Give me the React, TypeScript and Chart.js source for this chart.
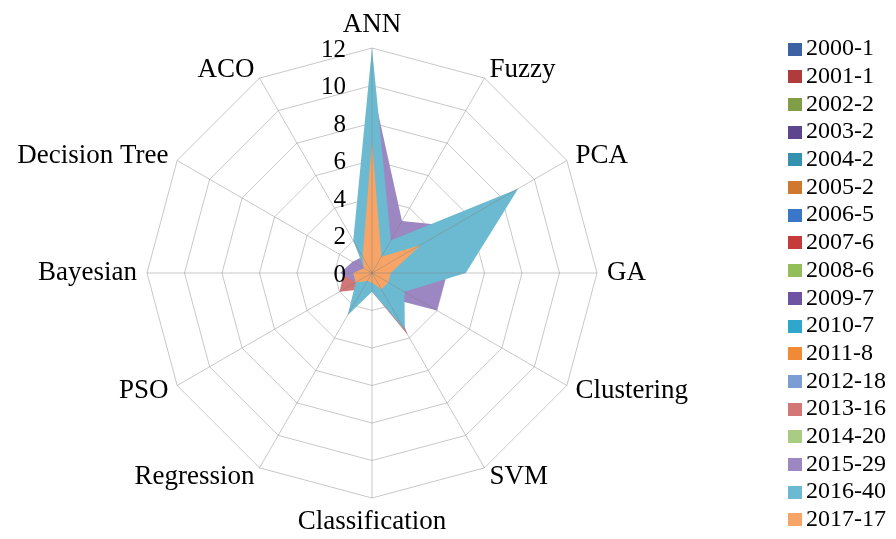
import React, { useEffect, useRef } from "react";
import { Chart, registerables } from "chart.js";

Chart.register(...registerables);

const categories = [
  "ANN", "Fuzzy", "PCA", "GA", "Clustering", "SVM",
  "Classification", "Regression", "PSO", "Bayesian", "Decision Tree", "ACO",
];

const tickValues = [0, 2, 4, 6, 8, 10, 12];

const seriesLabels = [
  "2000-1", "2001-1", "2002-2", "2003-2", "2004-2", "2005-2",
  "2006-5", "2007-6", "2008-6", "2009-7", "2010-7", "2011-8",
  "2012-18", "2013-16", "2014-20", "2015-29", "2016-40", "2017-17",
];

const seriesColors = [
  "#3D62A4", "#B03B3B", "#7F9E47", "#5E468E", "#3492AE", "#D0782F",
  "#3A77C8", "#C53A3A", "#93BE5A", "#6E52A3", "#2FA6CC", "#F08A37",
  "#7C9CD4", "#D27676", "#A9CB82", "#9C87C2", "#6CBAD1", "#F7A466",
];

// values per category: ANN, Fuzzy, PCA, GA, Clustering, SVM, Classification, Regression, PSO, Bayesian, Decision Tree, ACO
const s2000 = [1, 0, 0, 0, 0, 0, 0, 0, 0, 0, 0, 0];
const s2001 = [0, 0, 1, 0, 0, 0, 0, 0, 0, 0, 0, 0];
const s2002 = [1, 0, 0, 1, 0, 0, 0, 0, 0, 0, 0, 0];
const s2003 = [1, 1, 0, 0, 0, 0, 0, 0, 0, 0, 0, 0];
const s2004 = [1, 0, 1, 0, 0, 0, 0, 0, 0, 0, 0, 0];
const s2005 = [2, 0, 0, 0, 0, 0, 0, 0, 0, 0, 0, 0];
const s2006 = [3, 0, 1, 1, 0, 0, 0, 0, 0, 0, 0, 0];
const s2007 = [3, 1, 1, 0, 1, 0, 0, 0, 0, 0, 0, 0];
const s2008 = [2, 0, 2, 1, 0, 1, 0, 0, 0, 0, 0, 0];
const s2009 = [4, 1, 1, 1, 0, 0, 0, 0, 0, 0, 0, 0];
const s2010 = [3, 1, 2, 1, 0, 0, 0, 0, 0, 0, 0, 0];
const s2011 = [4, 1, 2, 1, 0, 0, 0, 0, 0, 0, 0, 0];
const s2012 = [6, 1, 3, 2, 1, 1, 0, 0, 1, 0, 0, 1];
const s2013 = [5, 1, 2, 2, 1, 3.8, 1, 1, 2, 1.5, 0, 0];
const s2014 = [6, 1, 3, 2, 1, 1, 0, 1, 0, 1, 0, 1];
const s2015 = [10, 3.2, 5, 4, 4, 1.5, 1, 1, 1, 1.7, 1.2, 1];
const s2016 = [12, 2, 9, 5, 2, 3.5, 1, 2.6, 1, 1, 0.5, 2];
const s2017 = [7, 1, 3, 1, 1, 1, 0.5, 0.5, 1, 1, 0.5, 1];

const seriesValues = [
  s2000, s2001, s2002, s2003, s2004, s2005, s2006, s2007, s2008,
  s2009, s2010, s2011, s2012, s2013, s2014, s2015, s2016, s2017,
];

const FONT = '"Liberation Serif", "Times New Roman", serif';

const overlayPlugin = {
  id: "overlay",
  afterDatasetsDraw(chart: any) {
    const scale = chart.scales.r;
    const ctx = chart.ctx;
    const outer = scale.getDistanceFromCenterForValue(scale.max);
    ctx.save();
    ctx.strokeStyle = "rgba(128,128,128,0.43)";
    ctx.lineWidth = 1;
    for (let i = 0; i < categories.length; i++) {
      const p = scale.getPointPosition(i, outer);
      ctx.beginPath();
      ctx.moveTo(scale.xCenter, scale.yCenter);
      ctx.lineTo(p.x, p.y);
      ctx.stroke();
    }
    ctx.restore();
  },
  afterDraw(chart: any) {
    const scale = chart.scales.r;
    const ctx = chart.ctx;
    ctx.save();
    ctx.fillStyle = "#000";

    // tick labels on the ANN axis, left of it
    ctx.font = `25px ${FONT}`;
    ctx.textAlign = "right";
    ctx.textBaseline = "middle";
    tickValues.forEach((v) => {
      const d = scale.getDistanceFromCenterForValue(v);
      ctx.fillText(String(v), scale.xCenter - 26, scale.yCenter - d + 2);
    });

    // point labels
    ctx.font = `27px ${FONT}`;
    const r = scale.drawingArea + 10;
    categories.forEach((c, i) => {
      const p = scale.getPointPosition(i, r);
      const a = scale.getIndexAngle(i);
      const s = Math.sin(a);
      const co = Math.cos(a);
      if (Math.abs(s) < 0.01) {
        ctx.textAlign = "center";
        ctx.textBaseline = co > 0 ? "bottom" : "top";
      } else {
        ctx.textAlign = s > 0 ? "left" : "right";
        ctx.textBaseline = "middle";
      }
      ctx.fillText(c, p.x, p.y);
    });

    // legend
    ctx.font = `24px ${FONT}`;
    ctx.textAlign = "left";
    ctx.textBaseline = "middle";
    seriesLabels.forEach((l, i) => {
      const cy = 48.5 + i * 27.7;
      ctx.fillStyle = seriesColors[i];
      ctx.fillRect(788, Math.round(cy - 6), 14, 13);
      ctx.fillStyle = "#000";
      ctx.fillText(l, 806, cy + 0.5);
    });
    ctx.restore();
  },
};

export default function App() {
  const canvasRef = useRef<HTMLCanvasElement | null>(null);

  useEffect(() => {
    const canvas = canvasRef.current;
    if (!canvas) return;
    const n = seriesLabels.length;
    const chart = new Chart(canvas, {
      type: "radar",
      data: {
        labels: categories,
        datasets: seriesLabels.map((label, i) => ({
          label,
          data: seriesValues[i],
          backgroundColor: seriesColors[i],
          borderColor: "transparent",
          borderWidth: 0,
          pointRadius: 0,
          pointHoverRadius: 0,
          fill: true,
          order: n - 1 - i,
        })),
      },
      options: {
        responsive: false,
        animation: false,
        devicePixelRatio: 1,
        events: [],
        layout: { padding: { left: 147, right: 299, top: 48, bottom: 40 } },
        plugins: {
          legend: { display: false },
          tooltip: { enabled: false },
          title: { display: false },
        },
        scales: {
          r: {
            min: 0,
            max: 12,
            ticks: { stepSize: 2, display: false },
            pointLabels: { display: false },
            angleLines: { display: false },
            grid: { color: "#C8C8C8", lineWidth: 1 },
          },
        },
      },
      plugins: [overlayPlugin],
    });
    return () => chart.destroy();
  }, []);

  return (
    <div style={{ position: "absolute", left: 0, top: 0, width: 896, height: 539, background: "#fff" }}>
      <canvas ref={canvasRef} width={896} height={539} style={{ display: "block", width: 896, height: 539 }} />
    </div>
  );
}
